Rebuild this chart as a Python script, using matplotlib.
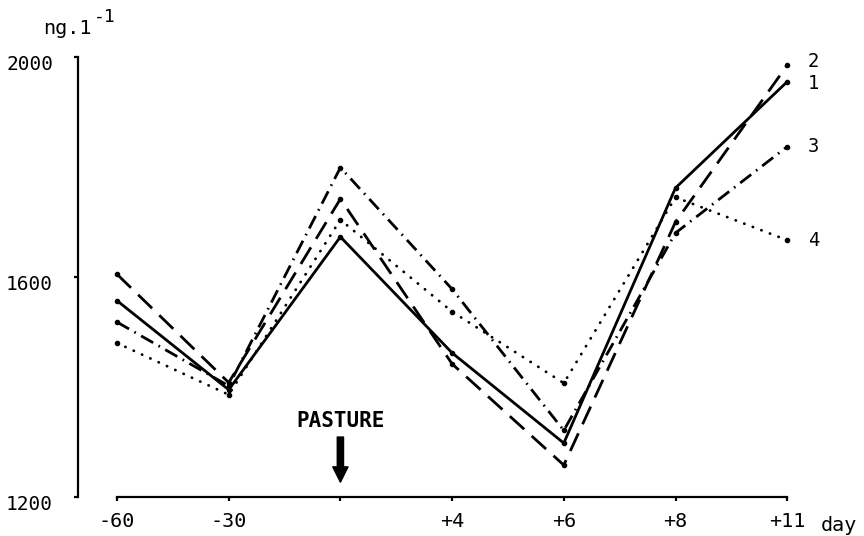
import numpy as np
import matplotlib
matplotlib.use("Agg")
import matplotlib.pyplot as plt
from matplotlib.transforms import ScaledTranslation

# x categories (the third one is the pasture day, no label)
day_labels = ["-60", "-30", "", "+4", "+6", "+8", "+11"]
x_pos = np.arange(len(day_labels))

# concentrations, ng.l-1
series_1 = [1557, 1395, 1673, 1462, 1298, 1762, 1955]   # solid
series_2 = [1605, 1408, 1742, 1442, 1258, 1700, 1985]   # dashed
series_3 = [1518, 1402, 1799, 1578, 1321, 1680, 1837]   # dash-dot
series_4 = [1480, 1386, 1704, 1537, 1407, 1745, 1667]   # dotted
series_names = ["1", "2", "3", "4"]
# small vertical nudges (points) so labels 1 and 2 don't collide
name_nudge = [-1.5, 3.0, 0.0, 0.0]

y_ticks = [1200, 1600, 2000]

mono = "DejaVu Sans Mono"
plt.rcParams["font.family"] = [mono, "DejaVu Sans"]
fs = 14

fig = plt.figure(figsize=(8.64, 5.36), dpi=100)
# axes placed in pixels: left spine at x=78, y 2000 at 57px, 1200 at 497px
ax = fig.add_axes([78 / 864, (536 - 497) / 536, (840 - 78) / 864, 440 / 536])

lw = 2.0
styles = [
    dict(linestyle="-"),
    dict(linestyle=(0, (7.0, 3.6))),
    dict(linestyle=(0, (5.0, 2.2, 0.6, 2.2))),
    dict(linestyle=(0, (0.1, 3.2)), dash_capstyle="round"),
]
all_series = [series_1, series_2, series_3, series_4]

for vals, st in zip(all_series, styles):
    ax.plot(x_pos, vals, color="black", lw=lw, clip_on=False, **st)
    ax.plot(x_pos, vals, "o", color="black", ms=3.0, clip_on=False)

# series numbers at the right end
for name, vals, dy in zip(series_names, all_series, name_nudge):
    ax.annotate(name, xy=(x_pos[-1], vals[-1]), xytext=(15, dy),
                textcoords="offset points", ha="left", va="center",
                fontsize=13.5, family=mono)

ax.set_xlim((78 - 117) / 111.7, (840 - 117) / 111.7)
ax.set_ylim(1200, 2000)

for side in ["top", "right"]:
    ax.spines[side].set_visible(False)
ax.spines["left"].set_bounds(1200, 2000)
ax.spines["bottom"].set_bounds(0, 6)
ax.spines["left"].set_linewidth(1.6)
ax.spines["bottom"].set_linewidth(1.6)

ax.set_xticks(x_pos)
ax.set_xticklabels(day_labels, fontsize=fs + 0.5, family=mono)
ax.set_yticks(y_ticks)
ax.set_yticklabels([str(v) for v in y_ticks], fontsize=fs, family=mono)
ax.tick_params(axis="x", direction="out", length=3, width=1.6, pad=8)
ax.tick_params(axis="y", direction="out", length=3, width=1.6, pad=15)
# y labels sit a little below their ticks in the original
shift = ScaledTranslation(0, -4 / 72, fig.dpi_scale_trans)
for lab in ax.get_yticklabels():
    lab.set_transform(lab.get_transform() + shift)

# pasture marker
ax.text(2, 1327, "PASTURE", ha="center", va="baseline", fontsize=15,
        fontweight="bold", family=mono)
ax.annotate("", xy=(2, 1227), xytext=(2, 1309),
            arrowprops=dict(facecolor="black", edgecolor="black", width=4.5,
                            headwidth=11, headlength=11, shrink=0))

# unit and axis words
fig.text(43 / 864, 1 - 34 / 536, "ng.1", fontsize=fs + 0.5, family=mono,
         ha="left", va="baseline")
fig.text(94 / 864, 1 - 22 / 536, "-1", fontsize=13, family=mono,
         ha="left", va="baseline")
fig.text(821 / 864, 1 - 531 / 536, "day", fontsize=fs + 0.5, family=mono,
         ha="left", va="baseline")

fig.savefig("out.png", dpi=100, facecolor="white")
